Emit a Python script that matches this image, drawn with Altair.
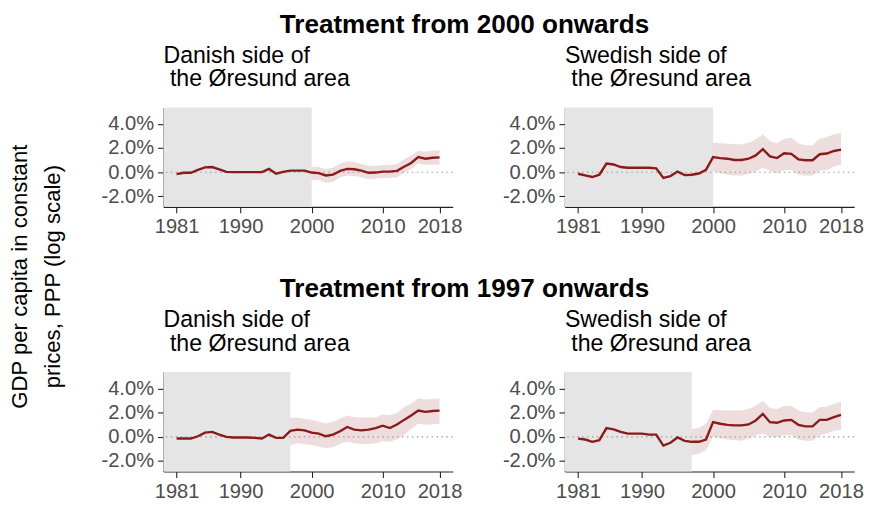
import altair as alt
import pandas as pd

FONT = "Liberation Sans"
RED = "#8B1A1A"
SHADE = "#E5E5E5"

YEARS = list(range(1981, 2019))
X_TICKS = [1981, 1990, 2000, 2010, 2018]
Y_TICKS = [-2, 0, 2, 4]
X_DOMAIN = [1979.15, 2019.85]
Y_DOMAIN = [-2.875, 5.375]

ROW_TITLES = ["Treatment from 2000 onwards", "Treatment from 1997 onwards"]
DK_TITLE = ["Danish side of", "\u200b the Øresund area"]
SE_TITLE = ["Swedish side of", "\u200b the Øresund area"]
Y_LABEL = ["GDP per capita in constant", "prices, PPP (log scale)"]

# Gap between region and synthetic control, in percent
dk2000 = [-0.16, -0.05, -0.05, 0.19, 0.40, 0.43, 0.24, 0.03, 0.0, 0.0,
          0.0, 0.0, 0.0, 0.27, -0.13, 0.03, 0.13, 0.13, 0.13, -0.03,
          -0.08, -0.27, -0.21, 0.11, 0.27, 0.24, 0.13, -0.05, -0.03, 0.05,
          0.05, 0.11, 0.45, 0.77, 1.25, 1.12, 1.20, 1.23]
dk2000_hi = [0.45, 0.40, 0.27, 0.37, 0.72, 0.91, 0.85, 0.69, 0.53, 0.53,
             0.59, 0.59, 0.67, 1.07, 1.39, 1.76, 1.71, 1.79, 1.84]
dk2000_lo = [-0.61, -0.64, -0.88, -0.80, -0.43, -0.27, -0.32, -0.43, -0.59, -0.53,
             -0.48, -0.48, -0.43, -0.05, 0.27, 0.72, 0.59, 0.64, 0.64]

se2000 = [-0.13, -0.27, -0.40, -0.21, 0.72, 0.64, 0.43, 0.37, 0.37, 0.37,
          0.37, 0.32, -0.48, -0.32, 0.05, -0.24, -0.21, -0.11, 0.19, 1.25,
          1.17, 1.12, 1.01, 1.01, 1.12, 1.39, 1.92, 1.31, 1.17, 1.57,
          1.52, 1.07, 0.99, 0.99, 1.49, 1.55, 1.76, 1.87]
se2000_hi = [2.45, 2.40, 2.37, 2.32, 2.32, 2.45, 2.72, 3.12, 2.59, 2.40,
             2.77, 2.85, 2.40, 2.24, 2.24, 2.77, 2.93, 3.12, 3.25]
se2000_lo = [0.10, -0.08, -0.21, -0.27, -0.27, -0.16, 0.05, 0.37, 0.11, -0.08,
             0.19, 0.19, -0.21, -0.27, -0.27, 0.11, 0.19, 0.45, 0.59]

dk1997 = [-0.14, -0.14, -0.14, 0.05, 0.35, 0.41, 0.19, 0.0, -0.05, -0.05,
          -0.05, -0.08, -0.14, 0.19, -0.08, -0.08, 0.49, 0.60, 0.54, 0.35,
          0.27, 0.05, 0.19, 0.46, 0.82, 0.60, 0.54, 0.60, 0.73, 0.93,
          0.73, 1.03, 1.41, 1.77, 2.18, 2.07, 2.15, 2.18]
dk1997_hi = [1.58, 1.58, 1.50, 1.42, 1.25, 1.14, 1.25, 1.50, 1.77, 1.63,
             1.60, 1.60, 1.63, 1.85, 1.80, 2.00, 2.45, 2.75, 3.20, 3.10,
             3.15, 3.20]
dk1997_lo = [-0.68, -0.54, -0.60, -0.68, -0.80, -0.95, -0.87, -0.60, -0.41, -0.54,
             -0.60, -0.60, -0.54, -0.35, -0.41, -0.20, 0.14, 0.65, 1.10, 1.00,
             1.05, 1.10]

se1997 = [-0.14, -0.22, -0.41, -0.27, 0.73, 0.63, 0.41, 0.27, 0.27, 0.27,
          0.19, 0.19, -0.73, -0.49, -0.05, -0.33, -0.41, -0.41, -0.22, 1.22,
          1.09, 1.00, 0.95, 0.95, 1.03, 1.36, 1.90, 1.22, 1.17, 1.36,
          1.41, 1.00, 0.87, 0.87, 1.41, 1.41, 1.63, 1.82]
se1997_hi = [0.68, 0.73, 1.09, 2.23, 2.23, 2.18, 2.18, 2.18, 2.31, 2.59,
             3.00, 2.39, 2.31, 2.59, 2.59, 2.18, 2.04, 2.04, 2.45, 2.50,
             2.72, 2.94]
se1997_lo = [-1.50, -1.41, -1.09, 0.00, -0.14, -0.22, -0.27, -0.33, -0.14, 0.14,
             0.27, 0.00, -0.05, 0.14, 0.14, -0.22, -0.33, -0.33, 0.14, 0.27,
             0.49, 0.60]

W, H = 294, 101

xs = alt.Scale(domain=X_DOMAIN, nice=False, zero=False)
ys = alt.Scale(domain=Y_DOMAIN, nice=False, zero=False)
xax = alt.Axis(values=X_TICKS, format="d", title=None, grid=False, labelFlush=False,
               labelOverlap=False)
yax = alt.Axis(values=Y_TICKS, title=None, grid=False, labelOverlap=False, labelFlush=False,
               labelExpr="(datum.value < 0 ? '-' : '') + format(abs(datum.value), '.1f') + '%'")


def panel(vals, lo, hi, treat, title_lines):
    line_df = pd.DataFrame({"year": YEARS, "gap": vals})
    band_df = pd.DataFrame({"year": list(range(treat, 2019)), "lo": lo, "hi": hi})
    shade_df = pd.DataFrame({"treat": [treat]})
    shade = alt.Chart(shade_df).mark_rect(color=SHADE).encode(
        x=alt.X("treat:Q", scale=xs, axis=xax), x2=alt.value(0),
        y=alt.value(0), y2=alt.value(H))
    band = alt.Chart(band_df).mark_area(color=RED, opacity=0.15).encode(
        x=alt.X("year:Q", scale=xs, axis=xax),
        y=alt.Y("lo:Q", scale=ys, axis=yax), y2="hi:Q")
    zero = alt.Chart(shade_df).mark_rule(color="#9a9a9a", strokeDash=[1.5, 3.5], strokeWidth=1.1).encode(
        y=alt.YDatum(0, scale=ys, axis=yax))
    line = alt.Chart(line_df).mark_line(color=RED, strokeWidth=2.4).encode(
        x=alt.X("year:Q", scale=xs, axis=xax),
        y=alt.Y("gap:Q", scale=ys, axis=yax))
    return alt.layer(shade, band, zero, line).properties(
        width=W, height=H,
        title=alt.TitleParams(text=title_lines, anchor="start", frame="group", fontSize=23.5,
                              fontWeight="normal", font=FONT, color="black", lineHeight=24, offset=17))


def row(title, left, right):
    return alt.hconcat(left, right, spacing=40).properties(
        title=alt.TitleParams(title, anchor="middle", fontSize=26.5, fontWeight="bold",
                              font=FONT, color="black", dx=-18, offset=6))


row1 = row(ROW_TITLES[0],
           panel(dk2000, dk2000_lo, dk2000_hi, 2000, DK_TITLE),
           panel(se2000, se2000_lo, se2000_hi, 2000, SE_TITLE))
row2 = row(ROW_TITLES[1],
           panel(dk1997, dk1997_lo, dk1997_hi, 1997, DK_TITLE),
           panel(se1997, se1997_lo, se1997_hi, 1997, SE_TITLE))

body = alt.vconcat(row1, row2, spacing=40)

label = alt.Chart(pd.DataFrame({"a": [0]})).mark_text(
    text=Y_LABEL, angle=270, fontSize=22.5, lineHeight=34, font=FONT, color="black",
    align="center", baseline="middle").encode(
    x=alt.value(9), y=alt.value(172)).properties(width=60, height=380)

chart = alt.hconcat(label, body, spacing=31).properties(padding=0).configure_view(
    stroke=None).configure_axis(
    domainColor="#222", domainWidth=1.2, tickColor="#222", tickWidth=1.1, tickSize=6,
    labelColor="#4D4D4D", labelFontSize=20.5, labelFont=FONT, labelPadding=4,
    labelOverlap=False)

chart.save("out.html", embed_options={"renderer": "svg", "actions": False})
